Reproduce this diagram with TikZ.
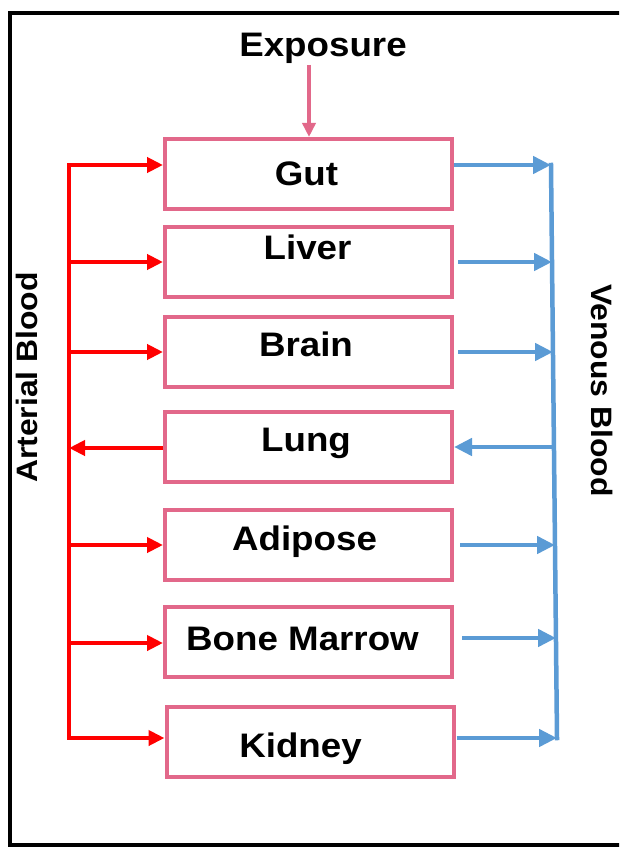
\documentclass[tikz,border=0pt]{standalone}
\usepackage{fontspec}
\setmainfont{Liberation Sans}
\newfontfamily\lblfont{Liberation Sans}[FakeStretch=1.08]
\usetikzlibrary{arrows.meta}
\definecolor{pinkc}{RGB}{226,104,138}
\definecolor{bluec}{RGB}{91,155,213}
\definecolor{redc}{RGB}{255,0,0}
\begin{document}
\begin{tikzpicture}[x=1pt,y=-1pt,
 organ/.style={draw=pinkc, line width=4pt, minimum width=287pt, minimum height=70pt, inner sep=0pt, anchor=center},
 lbl/.style={anchor=base, inner sep=0pt, font=\lblfont\bfseries\fontsize{34}{40}\selectfont},
 side/.style={inner sep=0pt, font=\lblfont\bfseries\fontsize{29.5}{34}\selectfont},
 art/.style={draw=redc, line width=4.5pt},
 artarrow/.style={art, -{Triangle[length=16pt,width=15pt]}},
 ven/.style={draw=bluec, line width=4.5pt},
 venarrow/.style={ven, -{Triangle[length=18pt,width=17pt]}},
 frame/.style={draw=black, line width=3.5pt}
]
\clip (0,0) rectangle (619,848);
\fill[white] (0,0) rectangle (619,848);
\draw[frame] (10,13) rectangle (660,845);

% boxes
\node[organ] (gut) at (308.5,174) {};
\node[organ] (liver) at (308.5,261.5) {};
\node[organ] (brain) at (308.5,352) {};
\node[organ] (lung) at (308.5,446.5) {};
\node[organ] (adipose) at (308.5,544.5) {};
\node[organ] (marrow) at (308.5,641.5) {};
\node[organ] (kidney) at (310,741.5) {};

% labels
\node[lbl] (gutT) at (306.5,185) {Gut};
\node[lbl] (liverT) at (307.5,259) {Liver};
\node[lbl] (brainT) at (306,356) {Brain};
\node[lbl] (lungT) at (306,451) {Lung};
\node[lbl] (adiposeT) at (304.5,550) {Adipose};
\node[lbl] (marrowT) at (302.5,650) {Bone Marrow};
\node[lbl] (kidneyT) at (300.5,757) {Kidney};

\node[lbl] (expo) at (323,57) {Exposure};
\coordinate (expoStart) at (309,65);
\draw[pinkc, line width=3.5pt, -{Triangle[length=14pt,width=13pt]}] (expoStart) -- (expoStart |- gut.north);

\node[side, rotate=90] (artT) at (27,377.5) {Arterial Blood};
\node[side, rotate=-90] (venT) at (602.5,390.5) {Venous Blood};

% arterial bus
\coordinate (lb1) at (69,165);
\coordinate (lb2) at (69,262);
\coordinate (lb3) at (69,352);
\coordinate (lb4) at (69,448);
\coordinate (lb5) at (69,545);
\coordinate (lb6) at (69,643);
\coordinate (lb7) at (69,738);
\draw[art, line cap=rect] (lb1) -- (lb7);
\draw[artarrow] (lb1) -- (lb1 -| gut.west);
\draw[artarrow] (lb2) -- (lb2 -| liver.west);
\draw[artarrow] (lb3) -- (lb3 -| brain.west);
\draw[artarrow] (lb4 -| lung.west) -- (lb4);
\draw[artarrow] (lb5) -- (lb5 -| adipose.west);
\draw[artarrow] (lb6) -- (lb6 -| marrow.west);
\draw[artarrow] (lb7) -- (lb7 -| kidney.west);

% venous bus
\coordinate (rb1) at (551,165);
\coordinate (rb2) at (552,262);
\coordinate (rb3) at (553,352);
\coordinate (rb4) at (554,447);
\coordinate (rb5) at (555,545);
\coordinate (rb6) at (556,638);
\coordinate (rb7) at (557,738);
\draw[ven, line cap=rect] (rb1) -- (rb7);
\draw[venarrow] (gut.east |- rb1) -- (rb1);
\draw[venarrow] ([xshift=4pt]liver.east |- rb2) -- (rb2);
\draw[venarrow] ([xshift=4pt]brain.east |- rb3) -- (rb3);
\draw[venarrow] (rb4) -- (lung.east |- rb4);
\draw[venarrow] ([xshift=6pt]adipose.east |- rb5) -- (rb5);
\draw[venarrow] ([xshift=8pt]marrow.east |- rb6) -- (rb6);
\draw[venarrow] ([xshift=1pt]kidney.east |- rb7) -- (rb7);
\end{tikzpicture}
\end{document}
